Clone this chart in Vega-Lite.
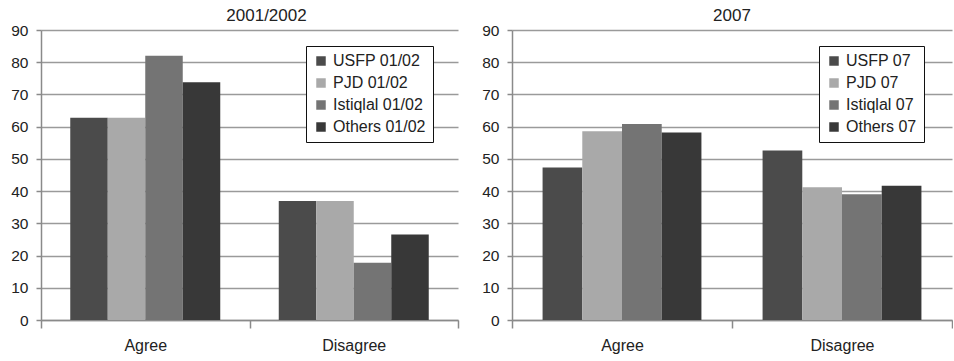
{
  "$schema": "https://vega.github.io/schema/vega-lite/v6.json",
  "padding": {"left": 10, "top": 7, "right": 0, "bottom": 4},
  "background": "white",
  "spacing": 22,
  "config": {
    "font": "Liberation Sans",
    "view": {"stroke": null},
    "axis": {
      "labelFont": "Liberation Sans",
      "labelFontSize": 15.5,
      "labelColor": "#222222",
      "domainColor": "#8a8a8a",
      "domainWidth": 1.5,
      "tickColor": "#8a8a8a",
      "tickWidth": 1.5,
      "tickSize": 5,
      "gridColor": "#9a9a9a",
      "gridWidth": 1.5,
      "title": null
    },
    "title": {"font": "Liberation Sans", "fontSize": 17, "fontWeight": "normal", "color": "#222222", "baseline": "alphabetic", "offset": -2},
    "legend": {
      "orient": "none",
      "title": null,
      "symbolType": "square",
      "symbolSize": 90,
      "symbolStrokeWidth": 0,
      "labelFont": "Liberation Sans",
      "labelFontSize": 16,
      "labelColor": "#222222",
      "labelOffset": 4,
      "rowPadding": 6,
      "strokeColor": "#111111",
      "fillColor": "white",
      "padding": 7
    }
  },
  "hconcat": [
    {
      "title": {"text": "2001/2002", "dx": 17},
      "width": 417,
      "height": 290,
      "data": {"values": [
        {"response": "Agree", "series": "USFP 01/02", "value": 62.8},
        {"response": "Agree", "series": "PJD 01/02", "value": 62.8},
        {"response": "Agree", "series": "Istiqlal 01/02", "value": 82},
        {"response": "Agree", "series": "Others 01/02", "value": 73.8},
        {"response": "Disagree", "series": "USFP 01/02", "value": 36.9},
        {"response": "Disagree", "series": "PJD 01/02", "value": 36.9},
        {"response": "Disagree", "series": "Istiqlal 01/02", "value": 17.8},
        {"response": "Disagree", "series": "Others 01/02", "value": 26.5}
      ]},
      "mark": {"type": "bar"},
      "encoding": {
        "x": {
          "field": "response", "type": "nominal",
          "scale": {"paddingInner": 0, "paddingOuter": 0},
          "axis": {"labelAngle": 0, "tickBand": "extent", "labelPadding": 9, "labelFontSize": 16, "tickSize": 8}
        },
        "xOffset": {
          "field": "series",
          "sort": ["USFP 01/02", "PJD 01/02", "Istiqlal 01/02", "Others 01/02"],
          "scale": {"paddingInner": 0, "paddingOuter": 0.78}
        },
        "y": {
          "field": "value", "type": "quantitative",
          "scale": {"domain": [0, 90], "nice": false},
          "axis": {"values": [0, 10, 20, 30, 40, 50, 60, 70, 80, 90], "labelPadding": 8}
        },
        "color": {
          "field": "series", "type": "nominal",
          "scale": {
            "domain": ["USFP 01/02", "PJD 01/02", "Istiqlal 01/02", "Others 01/02"],
            "range": ["#4b4b4b", "#a9a9a9", "#747474", "#383838"]
          },
          "legend": {"legendX": 265, "legendY": 16}
        }
      }
    },
    {
      "title": {"text": "2007"},
      "width": 440,
      "height": 290,
      "data": {"values": [
        {"response": "Agree", "series": "USFP 07", "value": 47.3},
        {"response": "Agree", "series": "PJD 07", "value": 58.6},
        {"response": "Agree", "series": "Istiqlal 07", "value": 60.8},
        {"response": "Agree", "series": "Others 07", "value": 58.2},
        {"response": "Disagree", "series": "USFP 07", "value": 52.6},
        {"response": "Disagree", "series": "PJD 07", "value": 41.2},
        {"response": "Disagree", "series": "Istiqlal 07", "value": 39},
        {"response": "Disagree", "series": "Others 07", "value": 41.7}
      ]},
      "mark": {"type": "bar"},
      "encoding": {
        "x": {
          "field": "response", "type": "nominal",
          "scale": {"paddingInner": 0, "paddingOuter": 0},
          "axis": {"labelAngle": 0, "tickBand": "extent", "labelPadding": 9, "labelFontSize": 16, "tickSize": 8}
        },
        "xOffset": {
          "field": "series",
          "sort": ["USFP 07", "PJD 07", "Istiqlal 07", "Others 07"],
          "scale": {"paddingInner": 0, "paddingOuter": 0.77}
        },
        "y": {
          "field": "value", "type": "quantitative",
          "scale": {"domain": [0, 90], "nice": false},
          "axis": {"values": [0, 10, 20, 30, 40, 50, 60, 70, 80, 90], "labelPadding": 8}
        },
        "color": {
          "field": "series", "type": "nominal",
          "scale": {
            "domain": ["USFP 07", "PJD 07", "Istiqlal 07", "Others 07"],
            "range": ["#4b4b4b", "#a9a9a9", "#747474", "#383838"]
          },
          "legend": {"legendX": 307, "legendY": 16}
        }
      }
    }
  ],
  "resolve": {"scale": {"color": "independent", "x": "independent", "y": "independent", "xOffset": "independent"}, "legend": {"color": "independent"}}
}
